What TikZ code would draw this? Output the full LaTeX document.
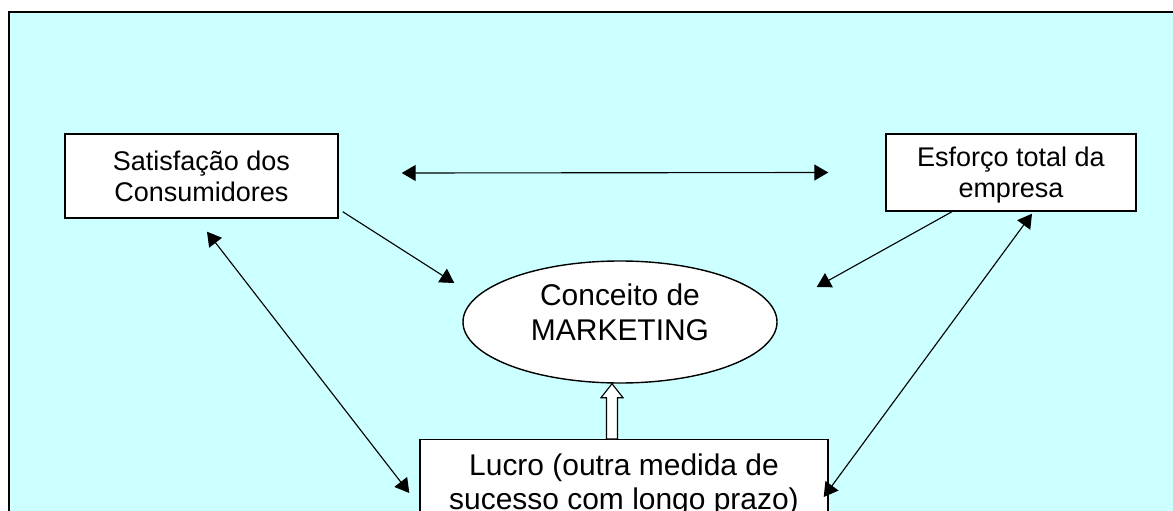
\documentclass[tikz,border=0pt]{standalone}
\usepackage{fontspec}
\setmainfont{Liberation Sans}
\usetikzlibrary{arrows.meta,shapes.geometric}
\definecolor{ciano}{HTML}{CCFFFF}
\begin{document}
\begin{tikzpicture}[>={Triangle[length=3.5mm,width=4mm]},
    caixa/.style={draw,line width=1pt,fill=white,inner sep=0pt,align=center,
        font=\fontsize{19.2pt}{22pt}\selectfont},
    seta/.style={->,line width=0.8pt},
    dupla/.style={<->,line width=0.8pt}]
\clip (0,0) rectangle (29.325,12.75);
\draw[line width=1.4pt,fill=ciano] (0.225,12.45) rectangle (30,-1);

\node[caixa,minimum width=6.825cm,minimum height=2.1cm] (sat) at (5.0375,8.35) {Satisfação dos\\Consumidores};
\node[caixa,minimum width=6.25cm,minimum height=1.925cm,text depth=0pt] (esf) at (25.275,8.4375) {Esforço total da\\empresa};
\node[draw,ellipse,line width=1pt,fill=white,align=center,inner sep=0pt,minimum width=7.85cm,minimum height=3.05cm,
    text depth=0.475cm,font=\fontsize{21.3pt}{24.9pt}\selectfont] (mkt) at (15.5,4.7) {Conceito de\\MARKETING};
\node[caixa,anchor=north,minimum width=10.2cm,inner ysep=0.35cm,
    font=\fontsize{21.3pt}{24pt}\selectfont] (lucro) at (15.6,1.775) {Lucro (outra medida de\\sucesso com longo prazo)};

\draw[dupla] ([xshift=1.575cm,yshift=0.075cm]sat.east) -- ([xshift=-1.425cm]esf.west);
\draw[seta] ([shift={(0.1,0.175)}]sat.south east) -- ([shift={(-0.2,0.975)}]mkt.west);
\draw[seta] ([xshift=-1.475cm]esf.south) -- ([shift={(0.975,0.875)}]mkt.east);
\draw[dupla] ([shift={(0.1375,-0.325)}]sat.south) -- ([shift={(-0.25,-1.35)}]lucro.north west);
\draw[dupla] ([shift={(0.525,-0.05)}]esf.south) -- ([shift={(-0.125,-1.45)}]lucro.north east);

% seta vazada
\coordinate (base) at ([xshift=-0.3cm]lucro.north);
\coordinate (ponta) at ([xshift=-0.2cm]mkt.south);
\draw[line width=0.8pt,fill=white] (ponta) -- ++(-0.275,-0.35) -- ++(0.1375,0)
    -- ([xshift=-0.1375cm]ponta |- base) -- ([xshift=0.1375cm]ponta |- base)
    -- ([shift={(0.1375,-0.35)}]ponta) -- ++(0.1375,0) -- cycle;
\end{tikzpicture}
\end{document}
